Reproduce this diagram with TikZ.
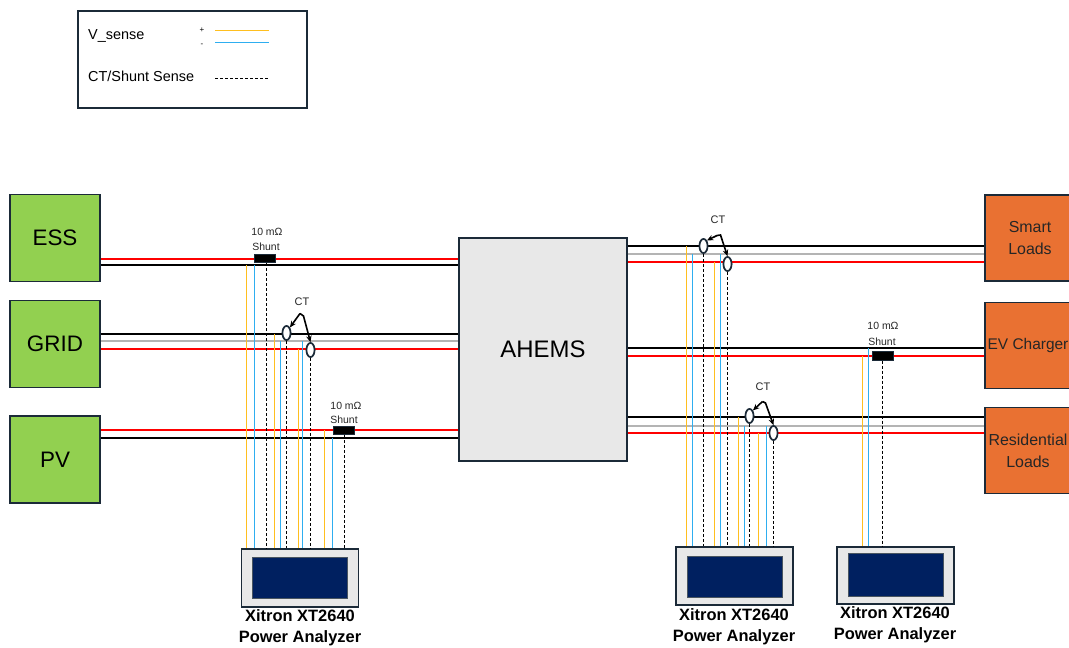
\documentclass[tikz,border=0pt]{standalone}
\usepackage{fontspec}
\setmainfont{Liberation Sans}
\usetikzlibrary{shapes.geometric,arrows.meta}
\definecolor{boxgreen}{HTML}{92D050}
\definecolor{boxorange}{HTML}{E97132}
\definecolor{edge}{HTML}{1B2A38}
\definecolor{panel}{HTML}{E8E8E8}
\definecolor{navy}{HTML}{002060}
\definecolor{senseplus}{HTML}{FFBF1F}
\definecolor{senseminus}{HTML}{2EAEF0}
\definecolor{neutral}{HTML}{B4B4B4}
\definecolor{wirered}{HTML}{FF0000}
\begin{document}
\begin{tikzpicture}[x=1bp,y=-1bp,
  srcbox/.style={draw=edge,line width=1.8bp,fill=boxgreen,minimum width=90bp,minimum height=87bp,inner sep=0bp,font=\fontsize{22.5}{26}\selectfont},
  loadbox/.style={draw=edge,line width=1.8bp,fill=boxorange,minimum width=92bp,minimum height=86bp,inner sep=0bp},
  loadtext/.style={align=center,font=\fontsize{16}{22}\selectfont,text=black!85,inner sep=0bp},
  hubbox/.style={draw=edge,line width=1.5bp,fill=panel,minimum width=168bp,minimum height=223bp,inner sep=0bp,font=\fontsize{24}{28}\selectfont},
  anout/.style={draw=edge,line width=1.8bp,fill=panel,minimum width=117bp,minimum height=58bp,inner sep=0bp},
  anin/.style={draw=edge!80,line width=1bp,fill=navy,minimum width=95bp,minimum height=41bp,inner sep=0bp},
  anlabel/.style={align=center,font=\fontsize{16.5}{21}\selectfont\bfseries,inner sep=0bp},
  shuntbox/.style={draw=edge,line width=1bp,fill=black,minimum width=21bp,minimum height=8bp,inner sep=0bp},
  ctring/.style={ellipse,draw=edge,line width=1.6bp,fill=white,minimum width=8bp,minimum height=14bp,inner sep=0bp},
  small/.style={font=\fontsize{10.5}{12}\selectfont,inner sep=0bp,text=black!85},
  ctlabel/.style={font=\fontsize{11}{12}\selectfont,inner sep=0bp,text=black!85},
  ctarrow/.style={line width=1.6bp,-{Stealth[length=6.5bp,width=5.5bp]}},
  redw/.style={wirered,line width=2bp},
  blackw/.style={black,line width=2bp},
  grayw/.style={neutral,line width=2bp},
  vplus/.style={senseplus,line width=1.6bp},
  vminus/.style={senseminus,line width=1.6bp},
  vcur/.style={black,line width=0.9bp,dash pattern=on 3bp off 2bp},
  legtext/.style={font=\fontsize{14.5}{17}\selectfont,inner sep=0bp,anchor=west}]
\useasboundingbox (0,0) rectangle (1069,648);
\clip (0,0) rectangle (1069,648);

% ---- legend
\node[draw=edge,line width=1.5bp,minimum width=229bp,minimum height=97bp] (legend) at (192.5,59.5) {};
\node[legtext] (lv) at (88,36) {V\_sense};
\node[font=\fontsize{8}{9}\selectfont,inner sep=0bp] (lp) at (202,30) {+};
\node[font=\fontsize{8}{9}\selectfont,inner sep=0bp] (lm) at (202,45) {-};
\coordinate (lpa) at (215,30.5); \coordinate (lpb) at (269,30.5);
\coordinate (lma) at (215,42.5); \coordinate (lmb) at (269,42.5);
\draw[vplus,line width=1.4bp] (lpa) -- (lpb);
\draw[vminus,line width=1.4bp] (lma) -- (lmb);
\node[legtext] (lc) at (88,76) {CT/Shunt Sense};
\coordinate (lca) at (215,78.5); \coordinate (lcb) at (268,78.5);
\draw[vcur] (lca) -- (lcb);

% ---- main boxes (positions)
\path node[srcbox] (ess) at (55,238) {ESS}
      node[srcbox] (grid) at (55,344) {GRID}
      node[srcbox] (pv) at (55,459.5) {PV}
      node[hubbox] (ahems) at (543,349.5) {AHEMS}
      node[loadbox] (smart) at (1031,238) {}
      node[loadbox] (ev) at (1031,345.5) {}
      node[loadbox] (res) at (1031,450.5) {};
\node[loadtext] (smartt) at (1030,238) {Smart\\Loads};
\node[loadtext,font=\fontsize{15.5}{22}\selectfont] (evt) at (1028,345.5) {EV Charger};
\node[loadtext] (rest) at (1028,451) {Residential\\Loads};

% ---- analyzers
\node[anout] (an1) at (300,578) {};
\node[anin] (an1s) at (299.5,577.5) {};
\node[anlabel] (an1l) at (300,627.5) {Xitron XT2640\\Power Analyzer};
\node[anout] (an2) at (734.5,576) {};
\node[anin] (an2s) at (734.5,576.5) {};
\node[anlabel] (an2l) at (734,627) {Xitron XT2640\\Power Analyzer};
\node[anout,minimum height=57bp] (an3) at (895.5,575.5) {};
\node[anin,minimum height=43bp] (an3s) at (895.5,574.5) {};
\node[anlabel] (an3l) at (895,624.5) {Xitron XT2640\\Power Analyzer};

% ---- power wires (left)
\draw[redw] (ess.east |- 0,259) -- (ahems.west |- 0,259);
\draw[blackw] (ess.east |- 0,265) -- (ahems.west |- 0,265);
\draw[blackw] (grid.east |- 0,334) -- (ahems.west |- 0,334);
\draw[grayw] (grid.east |- 0,341) -- (ahems.west |- 0,341);
\draw[redw] (grid.east |- 0,349) -- (ahems.west |- 0,349);
\draw[redw] (pv.east |- 0,430) -- (ahems.west |- 0,430);
\draw[blackw] (pv.east |- 0,438) -- (ahems.west |- 0,438);
% ---- power wires (right)
\draw[blackw] (ahems.east |- 0,246) -- (smart.west |- 0,246);
\draw[grayw] (ahems.east |- 0,254) -- (smart.west |- 0,254);
\draw[redw] (ahems.east |- 0,262) -- (smart.west |- 0,262);
\draw[blackw] (ahems.east |- 0,348) -- (ev.west |- 0,348);
\draw[redw] (ahems.east |- 0,356) -- (ev.west |- 0,356);
\draw[blackw] (ahems.east |- 0,417) -- (res.west |- 0,417);
\draw[grayw] (ahems.east |- 0,426) -- (res.west |- 0,426);
\draw[redw] (ahems.east |- 0,433) -- (res.west |- 0,433);

% ---- shunts and CTs (positions)
\node[shuntbox] (sh1) at (264.5,258.5) {};
\node[shuntbox] (sh2) at (343.5,430.5) {};
\node[shuntbox,minimum height=9bp] (sh3) at (882.5,355.5) {};
\node[ctring] (ct1) at (286.5,333) {};
\node[ctring] (ct2) at (310.5,350) {};
\node[ctring] (ct3) at (703.5,246) {};
\node[ctring] (ct4) at (727.5,264) {};
\node[ctring] (ct5) at (749.5,416) {};
\node[ctring] (ct6) at (773.5,433) {};

% ---- sense wires, left analyzer
\draw[vplus]  (246.5,265) -- (an1.north -| 246.5,0);
\draw[vminus] (254.5,265) -- (an1.north -| 254.5,0);
\draw[vcur]   (sh1.south -| 266.5,0) -- (an1.north -| 266.5,0);
\draw[vplus]  (274.5,334) -- (an1.north -| 274.5,0);
\draw[vminus] (280.5,341) -- (an1.north -| 280.5,0);
\draw[vcur]   (ct1.south) -- (an1.north -| ct1.south);
\draw[vplus]  (298.5,349) -- (an1.north -| 298.5,0);
\draw[vminus] (302.5,341) -- (an1.north -| 302.5,0);
\draw[vcur]   (ct2.south) -- (an1.north -| ct2.south);
\draw[vplus]  (324.5,430) -- (an1.north -| 324.5,0);
\draw[vminus] (332.5,438) -- (an1.north -| 332.5,0);
\draw[vcur]   (sh2.south -| 344.5,0) -- (an1.north -| 344.5,0);
% ---- sense wires, middle analyzer
\draw[vplus]  (686.5,246) -- (an2.north -| 686.5,0);
\draw[vminus] (692.5,254) -- (an2.north -| 692.5,0);
\draw[vcur]   (ct3.south) -- (an2.north -| ct3.south);
\draw[vplus]  (714.5,262) -- (an2.north -| 714.5,0);
\draw[vminus] (720.5,254) -- (an2.north -| 720.5,0);
\draw[vcur]   (ct4.south) -- (an2.north -| ct4.south);
\draw[vplus]  (738.5,417) -- (an2.north -| 738.5,0);
\draw[vminus] (744.5,426) -- (an2.north -| 744.5,0);
\draw[vcur]   (ct5.south) -- (an2.north -| ct5.south);
\draw[vplus]  (758.5,433) -- (an2.north -| 758.5,0);
\draw[vminus] (766.5,426) -- (an2.north -| 766.5,0);
\draw[vcur]   (ct6.south) -- (an2.north -| ct6.south);
% ---- sense wires, right analyzer
\draw[vplus]  (862.5,356) -- (an3.north -| 862.5,0);
\draw[vminus] (868.5,348) -- (an3.north -| 868.5,0);
\draw[vcur]   (sh3.south) -- (an3.north -| sh3.south);

% ---- redraw shunts and CTs on top
\node[shuntbox] at (sh1) {};
\node[shuntbox] at (sh2) {};
\node[shuntbox,minimum height=9bp] at (sh3) {};
\foreach \c in {ct1,ct2,ct3,ct4,ct5,ct6} \node[ctring] at (\c) {};

% ---- shunt labels
\node[small] (sh1a) at (267,232) {10 m\symbol{"03A9}};
\node[small] (sh1b) at (266,247) {Shunt};
\node[small] (sh2a) at (346,406) {10 m\symbol{"03A9}};
\node[small] (sh2b) at (344,420) {Shunt};
\node[small] (sh3a) at (883,326) {10 m\symbol{"03A9}};
\node[small] (sh3b) at (882,341.5) {Shunt};

% ---- CT labels and arrows
\node[ctlabel] (ctl1) at (302,302) {CT};
\coordinate (v1) at (300,313.5); \coordinate (k1) at (303.5,316);
\draw[ctarrow] (v1) -- (ct1.north east);
\draw[ctarrow] (v1) -- (k1) -- (ct2.north);
\node[ctlabel] (ctl2) at (718,220) {CT};
\coordinate (v2) at (717,235.5); \coordinate (k2) at (720.5,235);
\draw[ctarrow] (v2) -- (ct3.north east);
\draw[ctarrow] (v2) -- (k2) -- (ct4.north);
\node[ctlabel] (ctl3) at (763,387) {CT};
\coordinate (v3) at (762.5,401.5); \coordinate (k3) at (765.5,403);
\draw[ctarrow] (v3) -- (ct5.north east);
\draw[ctarrow] (v3) -- (k3) -- (ct6.north);
\end{tikzpicture}
\end{document}
